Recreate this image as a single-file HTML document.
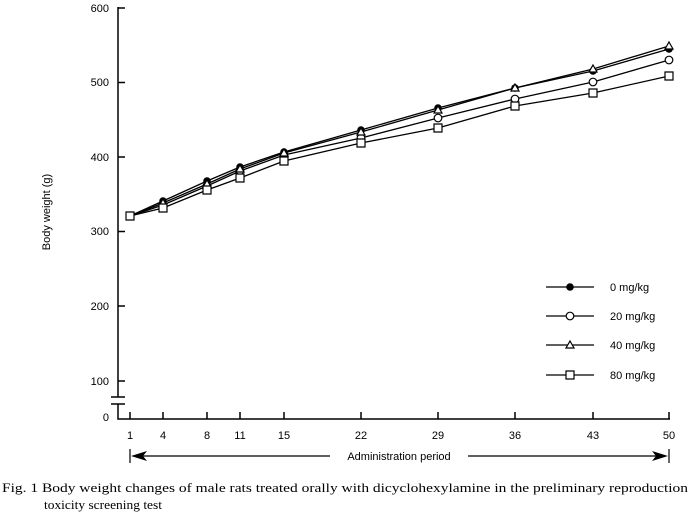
<!DOCTYPE html>
<html><head><meta charset="utf-8"><style>
html,body{margin:0;padding:0;background:#fff}
svg{display:block}
text{font-family:"Liberation Sans",sans-serif;font-size:11px;fill:#000}
.s{font-family:"Liberation Serif",serif;font-size:13px}
</style></head><body>
<svg width="689" height="513" viewBox="0 0 689 513">
<g stroke="#000" stroke-width="1.5" fill="none">
<path d="M118 7V397M118 404V419H670"/>
<path d="M111 397H125M111 404H125"/>
<path d="M118 8H125M118 82.5H125M118 157H125M118 231.5H125M118 306H125M118 381H125"/>
<path d="M130 419v-7M163 419v-7M207 419v-7M240 419v-7M284 419v-7M361 419v-7M438 419v-7M515 419v-7M593 419v-7M669 419v-7"/>
<path d="M130 449V463M669 449V463M135 456H330M468 456H664" stroke-width="1.2"/>
</g>
<path d="M131 456L147 451L143 456L147 461Z"/>
<path d="M668 456L652 451L656 456L652 461Z"/>
<g text-anchor="end"><text x="109" y="12">600</text><text x="109" y="86">500</text><text x="109" y="161">400</text><text x="109" y="235">300</text><text x="109" y="310">200</text><text x="109" y="385">100</text><text x="109" y="421">0</text></g>
<g text-anchor="middle"><text x="130" y="439">1</text><text x="163" y="439">4</text><text x="207" y="439">8</text><text x="240" y="439">11</text><text x="284" y="439">15</text><text x="361" y="439">22</text><text x="438" y="439">29</text><text x="515" y="439">36</text><text x="593" y="439">43</text><text x="669" y="439">50</text>
<text x="399" y="460">Administration  period</text></g>
<text transform="translate(50,212) rotate(-90)" text-anchor="middle">Body weight  (g)</text>
<g stroke="#000" stroke-width="1.3" fill="none">
<polyline points="130,216 163,201 207,181 240,167 284,152 361,130 438,108 515,88 593,71 669,49"/>
<polyline points="130,216 163,205 207,186 240,171 284,155 361,138 438,118 515,99 593,82 669,60"/>
<polyline points="130,216 163,203 207,184 240,169 284,153 361,132 438,110 515,88 593,69 669,46"/>
<polyline points="130,216 163,208 207,190 240,178 284,161 361,143 438,128 515,106 593,93 669,76"/>
<path d="M546 287H594M546 316H594M546 345H594M546 375H594"/>
</g>
<g fill="#000"><circle cx="130" cy="216" r="3.8"/><circle cx="163" cy="201" r="3.8"/><circle cx="207" cy="181" r="3.8"/><circle cx="240" cy="167" r="3.8"/><circle cx="284" cy="152" r="3.8"/><circle cx="361" cy="130" r="3.8"/><circle cx="438" cy="108" r="3.8"/><circle cx="515" cy="88" r="3.8"/><circle cx="593" cy="71" r="3.8"/><circle cx="669" cy="49" r="3.8"/><circle cx="570" cy="287" r="3.8"/></g>
<g fill="#fff" stroke="#000" stroke-width="1.2">
<circle cx="163" cy="205" r="3.8"/><circle cx="207" cy="186" r="3.8"/><circle cx="240" cy="171" r="3.8"/><circle cx="284" cy="155" r="3.8"/><circle cx="361" cy="138" r="3.8"/><circle cx="438" cy="118" r="3.8"/><circle cx="515" cy="99" r="3.8"/><circle cx="593" cy="82" r="3.8"/><circle cx="669" cy="60" r="3.8"/><circle cx="570" cy="316" r="3.8"/>
<path d="M163 199l4 7h-8zM207 180l4 7h-8zM240 165l4 7h-8zM284 149l4 7h-8zM361 128l4 7h-8zM438 106l4 7h-8zM515 84l4 7h-8zM593 65l4 7h-8zM669 42l4 7h-8zM570 341l4 7h-8z"/>
<path d="M126 212h8v8h-8zM159 204h8v8h-8zM203 186h8v8h-8zM236 174h8v8h-8zM280 157h8v8h-8zM357 139h8v8h-8zM434 124h8v8h-8zM511 102h8v8h-8zM589 89h8v8h-8zM665 72h8v8h-8zM566 371h8v8h-8z"/>
</g>
<text x="610" y="291">0 mg/kg</text><text x="610" y="320">20 mg/kg</text><text x="610" y="349">40 mg/kg</text><text x="610" y="379">80 mg/kg</text>
<text class="s" x="2" y="492" textLength="686" lengthAdjust="spacingAndGlyphs">Fig. 1  Body weight changes of male rats treated orally with dicyclohexylamine in the preliminary reproduction</text>
<text class="s" x="44" y="509" textLength="118" lengthAdjust="spacingAndGlyphs">toxicity screening test</text>
</svg>
</body></html>
